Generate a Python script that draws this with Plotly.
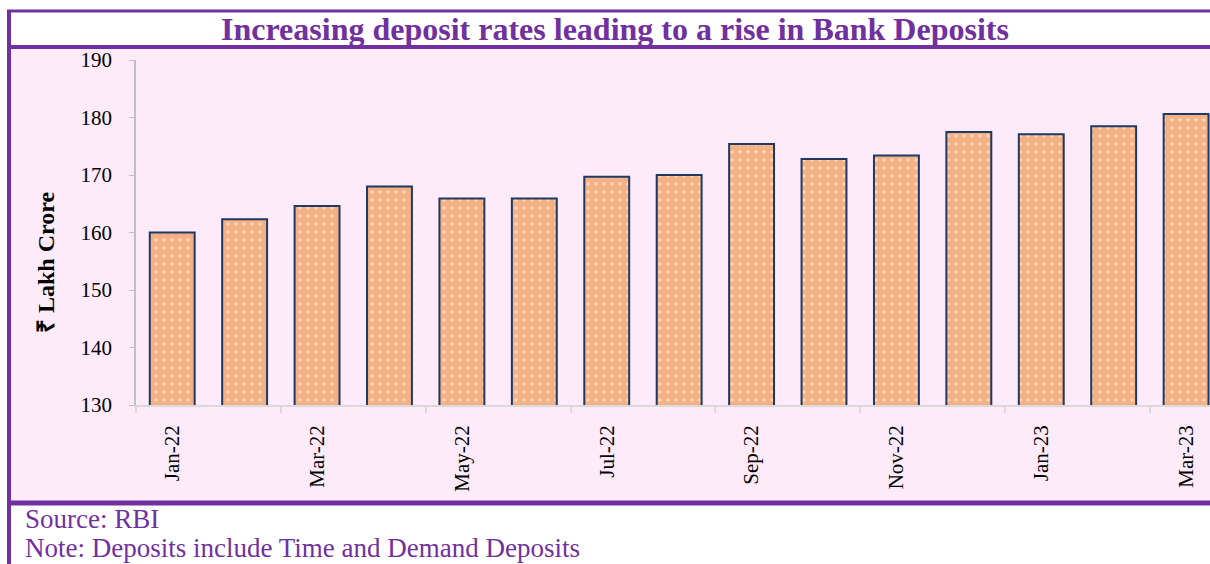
import plotly.graph_objects as go

months = ["Jan-22", "Feb-22", "Mar-22", "Apr-22", "May-22", "Jun-22", "Jul-22", "Aug-22",
          "Sep-22", "Oct-22", "Nov-22", "Dec-22", "Jan-23", "Feb-23", "Mar-23"]
deposits = [160.0, 162.3, 164.6, 168.0, 165.9, 165.9, 169.7, 170.0,
            175.4, 172.8, 173.4, 177.5, 177.1, 178.5, 180.6]

title_text = "Increasing deposit rates leading to a rise in Bank Deposits"
y_title = "₹ Lakh Crore"
source_text = "Source: RBI"
note_text = "Note: Deposits include Time and Demand Deposits"

W, H = 1210, 564
ML, MR, MT, MB = 136, 0, 60, 159
PW, PH = W - ML - MR, H - MT - MB

def px(x):
    return (x - ML) / PW

def py(y):
    return (H - MB - y) / PH

PURPLE = "#7030A0"
PINK = "#FDEBF9"
ORANGE = "#F4B183"
NAVY = "#1F3864"
GRAY = "#BFBFBF"
SERIF = "Liberation Serif, Times New Roman, serif"

xs = list(range(len(months)))

fig = go.Figure()
fig.add_trace(go.Bar(
    x=xs, y=deposits, width=0.62,
    marker=dict(color=ORANGE, line=dict(color=NAVY, width=2),
                pattern=dict(shape=".", fgcolor="white", bgcolor=ORANGE,
                             size=8, solidity=0.16)),
    hoverinfo="skip",
))

shapes = [
    dict(type="rect", xref="paper", yref="paper", x0=px(11), x1=px(1240), y0=py(49), y1=py(501),
         fillcolor=PINK, line=dict(width=0), layer="below"),
    dict(type="line", xref="paper", yref="paper", x0=px(7), x1=px(1240), y0=py(11), y1=py(11),
         line=dict(color=PURPLE, width=3)),
    dict(type="line", xref="paper", yref="paper", x0=px(7), x1=px(1240), y0=py(47), y1=py(47),
         line=dict(color=PURPLE, width=4)),
    dict(type="line", xref="paper", yref="paper", x0=px(7), x1=px(1240), y0=py(503), y1=py(503),
         line=dict(color=PURPLE, width=5)),
    dict(type="line", xref="paper", yref="paper", x0=px(9), x1=px(9), y0=py(10), y1=py(580),
         line=dict(color=PURPLE, width=4)),
]

annotations = [
    dict(text=f"<b>{title_text}</b>", xref="paper", yref="paper", x=px(615), y=py(29),
         xanchor="center", yanchor="middle", showarrow=False,
         font=dict(family=SERIF, size=32, color=PURPLE)),
    dict(text=f"<b>{y_title}</b>", xref="paper", yref="paper", x=px(46), y=py(263),
         xanchor="center", yanchor="middle", showarrow=False, textangle=-90,
         font=dict(family=SERIF, size=24, color="black")),
    dict(text=source_text, xref="paper", yref="paper", x=px(23), y=py(519),
         xanchor="left", yanchor="middle", showarrow=False,
         font=dict(family=SERIF, size=27, color=PURPLE)),
    dict(text=note_text, xref="paper", yref="paper", x=px(23), y=py(548),
         xanchor="left", yanchor="middle", showarrow=False,
         font=dict(family=SERIF, size=27, color=PURPLE)),
]

boundaries = [i - 0.5 for i in xs[::2]]

fig.update_layout(
    width=W, height=H, autosize=False,
    margin=dict(l=ML, r=MR, t=MT, b=MB, pad=0),
    paper_bgcolor="white", plot_bgcolor="rgba(0,0,0,0)",
    showlegend=False,
    shapes=shapes, annotations=annotations,
    xaxis=dict(range=[-0.5, 14.33], tickmode="array", tickvals=xs[::2], ticktext=months[::2],
               tickangle=-90, ticks="", showline=True, linecolor="#D9D9D9", linewidth=1.5,
               showgrid=False, zeroline=False, ticklabelstandoff=10,
               tickfont=dict(family=SERIF, size=21, color="black"),
               minor=dict(tickmode="array", tickvals=boundaries, ticks="outside",
                          ticklen=6, tickcolor="#D9D9D9", tickwidth=1.5, showgrid=False)),
    yaxis=dict(range=[130, 190], dtick=10, ticks="outside", ticklen=5, tickcolor=GRAY,
               showline=True, linecolor=GRAY, linewidth=1.5, showgrid=False, zeroline=False,
               ticklabelstandoff=13,
               tickfont=dict(family=SERIF, size=21, color="black")),
)

fig.write_html("out.html", config={"displayModeBar": False},
               post_script="document.body.style.margin='0';document.body.style.overflow='hidden';")
